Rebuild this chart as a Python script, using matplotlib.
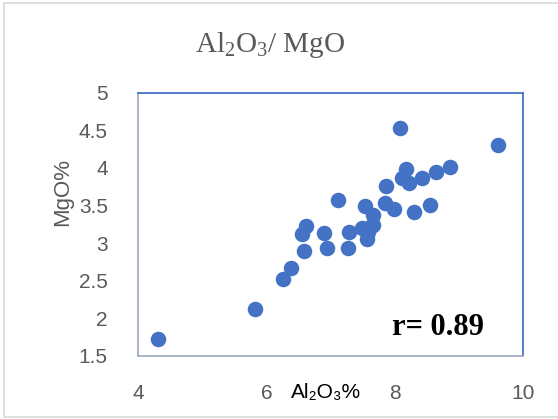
import matplotlib.pyplot as plt
from matplotlib.patches import Rectangle

# Al2O3 % vs MgO %
al2o3 = [4.30, 5.82, 6.26, 6.39, 6.59, 6.56, 6.61, 6.90, 6.95, 7.11,
         7.27, 7.29, 7.54, 7.57, 7.59, 7.67, 7.67, 7.49, 7.62, 7.86,
         7.85, 7.99, 8.09, 8.18, 8.11, 8.23, 8.30, 8.42, 8.56, 8.64,
         8.87, 9.61]
mgo = [1.72, 2.12, 2.52, 2.67, 2.89, 3.12, 3.23, 3.14, 2.94, 3.57,
       2.93, 3.15, 3.49, 3.06, 3.15, 3.37, 3.24, 3.20, 3.22, 3.76,
       3.54, 3.45, 4.53, 3.98, 3.87, 3.80, 3.41, 3.87, 3.51, 3.95,
       4.01, 4.30]
xticks = [4, 6, 8, 10]
yticks = [1.5, 2, 2.5, 3, 3.5, 4, 4.5, 5]

plt.rcParams['mathtext.fontset'] = 'custom'
plt.rcParams['mathtext.rm'] = 'Liberation Serif'
plt.rcParams['mathtext.it'] = 'Liberation Serif:italic'

grey = '#595959'
blue = '#4472C4'

fig = plt.figure(figsize=(5.58, 4.19), dpi=100)
ax = fig.add_axes([0.2479, 0.1504, 0.6889, 0.6284])

ax.scatter(al2o3, mgo, s=125, color=blue, zorder=3, linewidths=0)

ax.set_xlim(4, 10)
ax.set_ylim(1.5, 5)
ax.set_xticks(xticks)
ax.set_yticks(yticks)
ax.set_yticklabels([f'{v:g}' for v in yticks])
ax.tick_params(length=0, labelsize=15, labelcolor=grey, pad=22)
for lab in ax.get_xticklabels() + ax.get_yticklabels():
    lab.set_family(['Liberation Sans', 'DejaVu Sans'])
ax.tick_params(axis='x', pad=20)

for side in ['top', 'right']:
    ax.spines[side].set_color(blue)
for side in ['left', 'bottom']:
    ax.spines[side].set_color('#A3AFC4')
for sp in ax.spines.values():
    sp.set_linewidth(1.3)

ax.text(7.955, 1.78, 'r= 0.89', family='Liberation Serif', weight='bold',
        fontsize=22, ha='left', va='baseline', color='black')

fig.text(0.484, 0.893, r'Al$_2$O$_3$/ MgO', family='Liberation Serif',
         fontsize=21, color=grey, ha='center', va='center')
fig.text(0.113, 0.542, 'MgO%', family=['Liberation Sans', 'DejaVu Sans'],
         fontsize=16, color=grey, rotation=90, ha='center', va='center')
fig.text(0.584, 0.064, 'Al₂O₃%', family=['Liberation Sans', 'DejaVu Sans'],
         fontsize=15, color='black', ha='center', va='center')

fig.patches.append(Rectangle((0.008, 0.005), 1.2, 0.988, transform=fig.transFigure,
                             fill=False, edgecolor='#D9D9D9', linewidth=1.2))

fig.savefig('out.png', dpi=100)
